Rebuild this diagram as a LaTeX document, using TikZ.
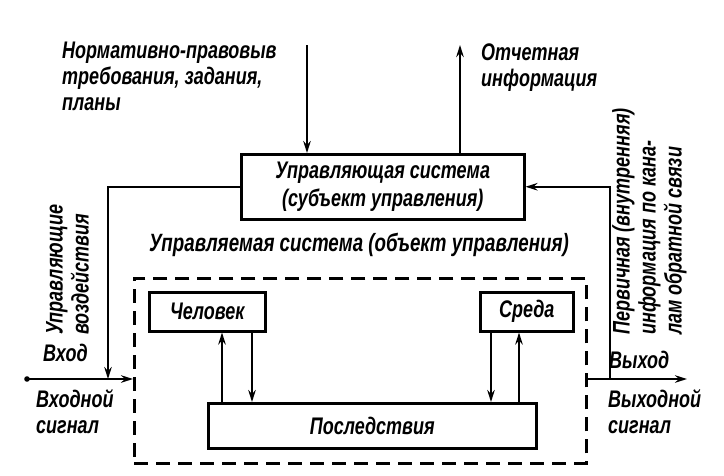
\documentclass[tikz,border=0pt]{standalone}
\usepackage{fontspec}
\setmainfont{Liberation Sans}
\newfontfamily\hw{Liberation Sans}[FakeStretch=0.75]
\usetikzlibrary{arrows.meta,calc}
\begin{document}
\begin{tikzpicture}[x=1pt,y=-1pt,
  lw/.style={line width=2.5pt},
  arr/.style={lw,-{Stealth[length=12pt,width=7.5pt]}},
  blk/.style={draw,lw,rectangle,inner sep=0pt,anchor=north west},
  lbl/.style={font=\hw\fontsize{24}{26}\selectfont\bfseries\itshape,inner sep=0pt,align=left},
  ctxt/.style={font=\hw\fontsize{24}{28}\selectfont\bfseries\itshape,inner sep=0pt,align=center}]
\useasboundingbox (0,0) rectangle (724,475);
% blocks
\node[blk,minimum width=283pt,minimum height=65pt] (ctrl) at (240,153) {};
\node[ctxt] (ctrltxt) at (ctrl.center) {Управляющая система\\(субъект управления)};
\node[draw,lw,dash pattern=on 14pt off 8pt,rectangle,inner sep=0pt,anchor=north west,minimum width=452pt,minimum height=185pt] (obj) at (133,277) {};
\node[blk,minimum width=116pt,minimum height=39pt] (chel) at (148,291) {};
\node[ctxt] (cheltxt) at (chel.center) {Человек};
\node[blk,minimum width=93pt,minimum height=39pt] (sreda) at (479,291) {};
\node[ctxt] (sredatxt) at (sreda.center) {Среда};
\node[blk,minimum width=328pt,minimum height=45pt] (posl) at (207,402) {};
\node[ctxt] (posltxt) at (posl.center) {Последствия};
% labels
\node[lbl,anchor=north west] (norm) at (62,42) {Нормативно-правовыв\\требования, задания,\\планы};
\node[lbl,anchor=north west] (otch) at (481,44) {Отчетная\\информация};
\node[ctxt,font=\hw\fontsize{25}{28}\selectfont\bfseries\itshape] (objtxt) at (359,245) {Управляемая система (объект управления)};
\node[lbl,anchor=west] (vhod) at (43,353) {Вход};
\node[lbl,anchor=north west] (vhs) at (36,389) {Входной\\сигнал};
\node[lbl,anchor=west] (vyh) at (609,360) {Выход};
\node[lbl,anchor=north west] (vys) at (608,389) {Выходной\\сигнал};
\node[lbl,rotate=90,anchor=north west] (upr) at (46,335) {Управляющие\\воздействия};
\node[lbl,rotate=90,anchor=north west] (perv) at (612,335) {Первичная (внутренняя)\\информация по кана-\\лам обратной связи};
% coordinates
\coordinate (inTop) at (307,45);
\coordinate (outTop) at (460,45);
\coordinate (src) at (27,379);
\coordinate (fbL) at (108,379);
\coordinate (outEnd) at (687,379);
\coordinate (fbR) at (610,379);
\coordinate (xa) at (222,0);
\coordinate (xb) at (252,0);
\coordinate (xc) at (491,0);
\coordinate (xd) at (519,0);
% connectors
\draw[arr] (inTop) -- (inTop |- ctrl.north);
\draw[arr] (outTop |- ctrl.north) -- (outTop);
\draw[arr] (ctrl.west) -| (fbL);
\draw[arr] (fbR) |- (ctrl.east);
\draw[arr] (src) -- (src -| obj.west);
\fill (src) circle (2.8pt);
\draw[arr] (outEnd -| obj.east) -- (outEnd);
\draw[arr] (xa |- posl.north) -- (xa |- chel.south);
\draw[arr] (xb |- chel.south) -- (xb |- posl.north);
\draw[arr] (xc |- sreda.south) -- (xc |- posl.north);
\draw[arr] (xd |- posl.north) -- (xd |- sreda.south);
\end{tikzpicture}
\end{document}
